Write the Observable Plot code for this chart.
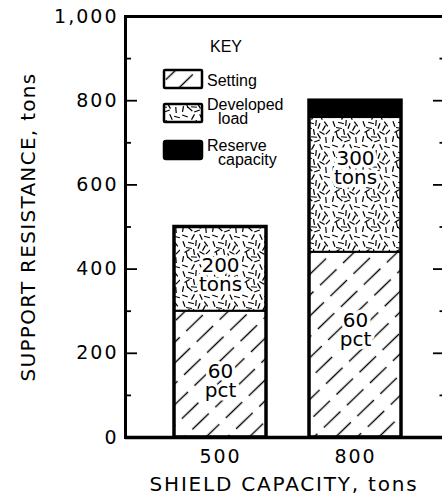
<!DOCTYPE html>
<html><head><meta charset="utf-8">
<script src="https://cdn.jsdelivr.net/npm/d3@7"></script>
<script src="https://cdn.jsdelivr.net/npm/@observablehq/plot@0.6"></script>
<style>
html,body{margin:0;padding:0;background:#fff;}
#chart{position:relative;width:442px;height:504px;overflow:hidden;}
[aria-label="y-axis tick label"] text,[aria-label="x-axis tick label"] text{letter-spacing:2px;}
</style></head><body><div id="chart"></div>
<script>
// ---- data ----
const capacities = ["500", "800"];
const series = ["Setting", "Developed load", "Reserve capacity"];
const setting = [300, 440];
const developed = [200, 320];
const reserve = [0, 40];
const yTicks = [0, 200, 400, 600, 800, 1000];
const yMinorTicks = [100, 300, 500, 700, 900];
const labelCapacity = ["500", "500", "800", "800"];
const labelText = ["60\npct", "200\ntons", "60\npct", "300\ntons"];
const labelY = [133, 385, 254, 639];
const yTitle = "SUPPORT RESISTANCE, tons";
const xTitle = "SHIELD CAPACITY, tons";
const keyTitle = "KEY";

// ---- derived tables ----
const valuesBySeries = [setting, developed, reserve];
const rows = [];
capacities.forEach((c, i) => series.forEach((s, j) => rows.push({capacity: c, series: s, value: valuesBySeries[j][i]})));
const totals = capacities.map((c, i) => ({capacity: c, total: setting[i] + developed[i] + reserve[i]}));
const labels = labelText.map((t, i) => ({capacity: labelCapacity[i], text: t, y: labelY[i]}));
const fills = ["url(#hatch)", "url(#stipple)", "black"];

// ---- pattern definitions ----
function defs() {
  const g = d3.create("svg:g");
  const d = g.append("defs");
  const h = d.append("pattern").attr("id", "hatch").attr("patternUnits", "userSpaceOnUse")
    .attr("width", 32).attr("height", 15).attr("patternTransform", "rotate(-44)");
  h.append("rect").attr("width", 32).attr("height", 15).attr("fill", "white");
  h.append("line").attr("x1", 0).attr("x2", 32).attr("y1", 7.5).attr("y2", 7.5)
    .attr("stroke", "black").attr("stroke-width", 1.4).attr("stroke-dasharray", "23 9");
  const s = d.append("pattern").attr("id", "stipple").attr("patternUnits", "userSpaceOnUse")
    .attr("width", 30).attr("height", 30);
  s.append("rect").attr("width", 30).attr("height", 30).attr("fill", "white");
  const dashes = [[4,4,70],[11,3,15],[19,6,110],[26,4,55],[7,11,150],[14,12,80],[22,13,30],
    [3,19,100],[10,19,40],[17,21,160],[26,20,85],[5,26,20],[13,27,120],[21,27,65],[28,12,135],[16,3,95],
    [9,8,10],[24,8,120],[19,16,60],[7,15,75],[27,27,15],[14,17,5]];
  for (const [x, y, a] of dashes) {
    const r = a * Math.PI / 180, l = 3;
    s.append("line").attr("x1", x - l * Math.cos(r)).attr("y1", y - l * Math.sin(r))
      .attr("x2", x + l * Math.cos(r)).attr("y2", y + l * Math.sin(r))
      .attr("stroke", "black").attr("stroke-width", 1.2);
  }
  return g.node();
}

// ---- key (legend) ----
function legend() {
  const g = d3.create("svg:g").attr("font-family", "'Liberation Sans', Arial, sans-serif")
    .attr("font-size", 16).attr("fill", "black").attr("text-anchor", "start");
  g.append("text").attr("x", 226).attr("y", 52).attr("text-anchor", "middle").text(keyTitle);
  const tops = [70, 104, 141];
  const base1 = [86, 110, 151];
  series.forEach((name, i) => {
    g.append("rect").attr("x", 164).attr("y", tops[i]).attr("width", 38).attr("height", 18)
      .attr("rx", i === 2 ? 2 : 1)
      .attr("fill", fills[i]).attr("stroke", "black").attr("stroke-width", 2.5);
    const parts = name.split(" ");
    g.append("text").attr("x", 207).attr("y", base1[i]).text(parts[0]);
    if (parts[1]) g.append("text").attr("x", 218).attr("y", base1[i] + 13.5).text(parts[1]);
  });
  return g.node();
}

const plotW = 442 - 125;
const chart = Plot.plot({
  width: 442,
  height: 504,
  marginLeft: 125,
  marginRight: 0,
  marginTop: 16,
  marginBottom: 67,
  style: {fontFamily: "'DejaVu Sans', sans-serif", color: "black", background: "white", overflow: "visible"},
  x: {domain: capacities, paddingInner: 0.32, paddingOuter: 0.33, align: 0.54},
  y: {domain: [0, 1000]},
  color: {type: "ordinal", domain: series, range: fills},
  marks: [
    defs,
    Plot.barY(rows, Plot.stackY({x: "capacity", y: "value", fill: "series", stroke: "black", strokeWidth: 2})),
    Plot.barY(totals, {x: "capacity", y: "total", fill: "none", stroke: "black", strokeWidth: 3.5}),
    Plot.text(labels, {x: "capacity", y: "y", text: "text", fontSize: 20, lineHeight: 0.95,
      fill: "black", stroke: "white", strokeWidth: 7}),
    Plot.tickY(yTicks, {y: d => d, insetRight: plotW - 12, strokeWidth: 1.8}),
    Plot.tickY(yMinorTicks, {y: d => d, insetRight: plotW - 6, strokeWidth: 1.8}),
    Plot.tickY(yTicks, {y: d => d, insetLeft: plotW - 9, strokeWidth: 1.8}),
    Plot.tickY(yMinorTicks, {y: d => d, insetLeft: plotW - 2.5, strokeWidth: 1.8}),
    Plot.ruleY([1000], {strokeWidth: 3}),
    Plot.ruleY([0], {strokeWidth: 3.5}),
    Plot.frame({anchor: "left", strokeWidth: 3}),
    Plot.axisY({ticks: yTicks, tickSize: 0, tickPadding: 7, tickFormat: d3.format(","), fontSize: 19, label: null}),
    Plot.axisX({tickSize: 0, tickPadding: 12, fontSize: 19, label: null}),
    Plot.text([yTitle], {text: d => d, frameAnchor: "left", textAnchor: "middle", lineAnchor: "middle",
      rotate: -90, dx: -97, fontSize: 20}),
    Plot.text([xTitle], {text: d => d, frameAnchor: "bottom", textAnchor: "middle", lineAnchor: "middle",
      dy: 47, fontSize: 20}),
    legend
  ]
});
const sel = d3.select(chart).selectAll("text");
sel.filter(function() { return this.textContent === xTitle; }).style("letter-spacing", "1.8px");
sel.filter(function() { return this.textContent === yTitle; }).style("letter-spacing", "1.3px");
document.getElementById("chart").appendChild(chart);
</script></body></html>
